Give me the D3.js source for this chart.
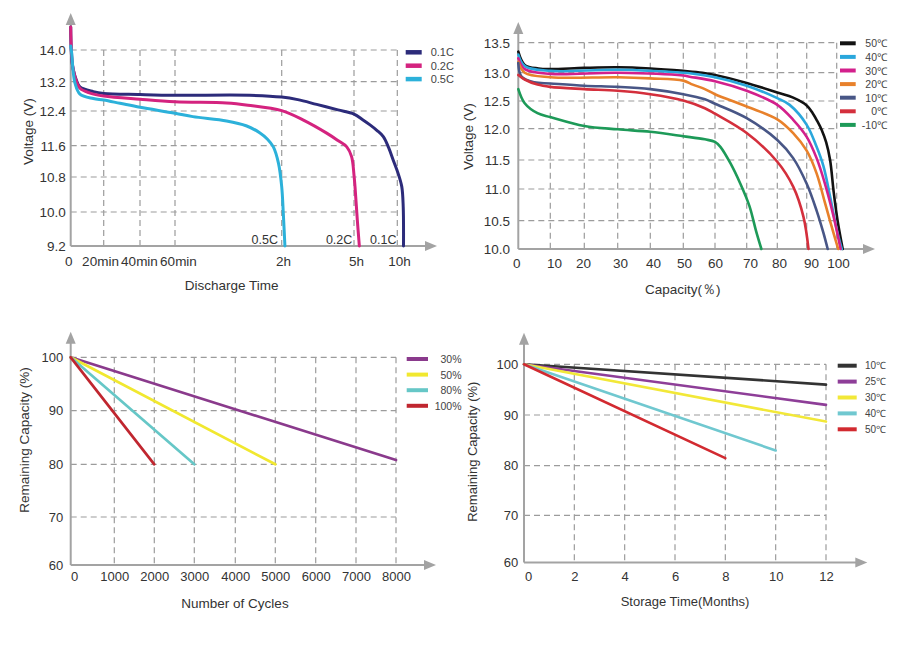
<!DOCTYPE html>
<html><head><meta charset="utf-8">
<script src="https://cdn.jsdelivr.net/npm/d3@7"></script>
<style>body{margin:0;background:#fff}</style>
</head><body><svg id="c" width="924" height="648"></svg>
<script>
// ---------- Panel 1: discharge curves ----------
const dischargeTicks = [0, 20, 40, 60, 120, 300, 600]; // minutes
const dischargeLabels = ["0", "20min", "40min", "60min", "2h", "5h", "10h"];
const voltTicks1 = [9.2, 10.0, 10.8, 11.6, 12.4, 13.2, 14.0];
const rateNames = ["0.1C", "0.2C", "0.5C"];
const rate01C = [[0,14.58],[0.3,14.0],[0.8,13.70],[1.6,13.50],[3.2,13.27],[5.6,13.06],[13.7,12.93],[20,12.88],[40,12.85],[60,12.83],[102,12.83],[120,12.78],[160,12.71],[207,12.58],[260,12.43],[300,12.33],[360,12.2],[411,12.08],[460,11.95],[503,11.81],[540,11.55],[572,11.23],[605,10.9],[631,10.58],[641,10.12],[643,9.2]];
const rate02C = [[0,14.58],[0.4,14.0],[1.1,13.62],[2.6,13.32],[5.6,13.02],[11.7,12.89],[20,12.81],[40,12.72],[60,12.65],[89,12.62],[101,12.56],[120,12.41],[174,12.19],[232,11.89],[260,11.72],[282,11.57],[294,11.32],[300,10.85],[307,10.58],[323,9.81],[337,9.2]];
const rate05C = [[0,14.1],[0.6,13.92],[1.4,13.50],[2.6,13.16],[5.6,12.86],[13.7,12.74],[20,12.70],[29,12.61],[40,12.50],[60,12.35],[70,12.27],[89,12.17],[100,12.06],[107.6,11.9],[112,11.75],[115.3,11.57],[118.2,11.15],[120,10.58],[124,9.97],[128,9.2]];

// ---------- Panel 2: temperature curves ----------
const capTicks = [0, 10, 20, 30, 40, 50, 60, 70, 80, 90, 100];
const voltTicks2 = [10.0, 10.5, 11.0, 11.5, 12.0, 12.5, 13.0, 13.5];
const tempNames = ["50℃", "40℃", "30℃", "20℃", "10℃", "0℃", "-10℃"];
const temp50 = [[0,13.35],[2,13.13],[6.3,13.07],[10,13.06],[20,13.08],[30,13.09],[40,13.07],[50,13.03],[56,13.0],[60,12.96],[70,12.82],[80,12.65],[85.4,12.56],[90,12.42],[92,12.28],[93.5,12.14],[95,11.98],[96.5,11.78],[97.8,11.5],[99,10.95],[100.3,10.5],[102,10.0]];
const temp40 = [[0,13.3],[2,13.11],[10,13.03],[30,13.05],[50,13.0],[52,12.99],[60,12.92],[70,12.77],[80,12.55],[84.2,12.43],[90,12.07],[93.3,11.71],[95.6,11.39],[97.8,10.88],[100,10.35],[101.7,10.0]];
const temp30 = [[0,13.24],[2,13.06],[10,12.98],[30,13.0],[50,12.95],[52,12.93],[60,12.85],[70,12.68],[80,12.43],[85.4,12.16],[90,11.87],[93.3,11.53],[96.1,11.09],[99,10.56],[101.3,10.0]];
const temp20 = [[0,13.18],[2,13.0],[10,12.92],[30,12.92],[40,12.9],[50,12.86],[53,12.79],[56.8,12.71],[60,12.62],[70,12.40],[80,12.17],[85.4,11.93],[90,11.65],[93.3,11.27],[96.1,10.78],[98.3,10.40],[100.5,10.0]];
const temp10 = [[0,13.16],[1,12.93],[5,12.83],[10,12.81],[20,12.77],[30,12.75],[40,12.71],[50,12.62],[56.8,12.53],[60,12.45],[70,12.19],[80,11.82],[85.4,11.53],[90,11.09],[93.3,10.66],[95.6,10.28],[97,10.0]];
const temp0 = [[0,12.96],[2,12.88],[6,12.79],[10,12.75],[20,12.71],[30,12.68],[40,12.62],[50,12.51],[56.8,12.37],[60,12.27],[70,11.93],[80,11.47],[85.4,11.04],[88.9,10.56],[90.6,10.0]];
const tempM10 = [[0,12.71],[2,12.46],[6,12.28],[10,12.21],[20,12.05],[30,11.99],[40,11.95],[50,11.88],[56.8,11.83],[60,11.79],[61.7,11.71],[64.9,11.44],[68,11.09],[70.9,10.73],[73,10.33],[74.8,10.0]];

// ---------- Panel 3: cycle life ----------
const cycleTicks = [0, 1000, 2000, 3000, 4000, 5000, 6000, 7000, 8000];
const capTicks3 = [60, 70, 80, 90, 100];
const dodNames = ["30%", "50%", "80%", "100%"];
const dod30 = [[0,100],[8000,80.8]];
const dod50 = [[0,100],[5000,80]];
const dod80 = [[0,100],[3000,80]];
const dod100 = [[0,100],[2000,80]];

// ---------- Panel 4: storage ----------
const monthTicks = [0, 2, 4, 6, 8, 10, 12];
const capTicks4 = [60, 70, 80, 90, 100];
const storeNames = ["10℃", "25℃", "30℃", "40℃", "50℃"];
const store10 = [[0,100],[12,96]];
const store25 = [[0,100],[12,92]];
const store30 = [[0,100],[12,88.7]];
const store40 = [[0,100],[10,83]];
const store50 = [[0,100],[8,81.5]];

// ================= drawing =================
const FONT = "'Liberation Sans', Arial, Helvetica, sans-serif";
const svg = d3.select("#c");
svg.append("rect").attr("width", 924).attr("height", 648).attr("fill", "#fff");
const AX = "#a3a3a3", GRID = "#9c9c9c", TXT = "#333";

function drawPanel(p) {
  const g = svg.append("g");
  const x = p.x, y = p.y;
  const x0 = x(p.xTicks[0]), y0 = y(p.yTicks[0]);
  const xMax = x(p.xTicks[p.xTicks.length - 1]);
  const yTop = y(p.yTicks[p.yTicks.length - 1]);

  g.selectAll("line.gh").data(p.yTicks.slice(1)).join("line").attr("class", "gh")
    .attr("x1", x0).attr("x2", xMax).attr("y1", d => y(d)).attr("y2", d => y(d))
    .attr("stroke", GRID).attr("stroke-width", 1.2).attr("stroke-dasharray", "6,4");
  g.selectAll("line.gv").data(p.xTicks.slice(1)).join("line").attr("class", "gv")
    .attr("y1", yTop).attr("y2", y0).attr("x1", d => x(d)).attr("x2", d => x(d))
    .attr("stroke", GRID).attr("stroke-width", 1.2).attr("stroke-dasharray", "6,4");

  // axes with arrows
  g.append("line").attr("x1", x0).attr("x2", x0).attr("y1", y0).attr("y2", p.topTip + 8)
    .attr("stroke", AX).attr("stroke-width", 2);
  g.append("line").attr("x1", x0).attr("x2", p.rightTip - 8).attr("y1", y0).attr("y2", y0)
    .attr("stroke", AX).attr("stroke-width", 2);
  g.append("path").attr("fill", AX)
    .attr("d", `M${x0},${p.topTip} L${x0 - 5},${p.topTip + 12} L${x0 + 5},${p.topTip + 12} Z`);
  g.append("path").attr("fill", AX)
    .attr("d", `M${p.rightTip},${y0} L${p.rightTip - 12},${y0 - 5} L${p.rightTip - 12},${y0 + 5} Z`);

  // tick labels through d3 axes
  const xa = g.append("g").attr("transform", `translate(0,${y0})`)
    .call(d3.axisBottom(x).tickValues(p.xTicks)
      .tickFormat(d => p.xLabels ? p.xLabels[p.xTicks.indexOf(d)] : d3.format(p.xFmt || "")(d))
      .tickSize(0).tickPadding(p.xPad));
  xa.select(".domain").remove();
  xa.selectAll("text").attr("font-family", FONT).attr("font-size", p.tickFont).attr("fill", TXT)
    .attr("dx", d => p.xLabelDx ? p.xLabelDx[p.xTicks.indexOf(d)] : (d === p.xTicks[0] ? p.zeroDx : 0));
  const ya = g.append("g").attr("transform", `translate(${x0},0)`)
    .call(d3.axisLeft(y).tickValues(p.yTicks).tickFormat(d3.format(p.yFmt)).tickSize(0).tickPadding(p.yPad));
  ya.select(".domain").remove();
  ya.selectAll("text").attr("font-family", FONT).attr("font-size", p.tickFont).attr("fill", TXT);
  xa.attr("font-family", null).attr("font-size", null);
  ya.attr("font-family", null).attr("font-size", null);

  // titles
  g.append("text").attr("x", p.xTitle[0]).attr("y", p.xTitle[1]).attr("text-anchor", "middle")
    .attr("dominant-baseline", "central").attr("font-family", FONT).attr("font-size", p.titleFont)
    .attr("fill", TXT).text(p.xTitleText);
  g.append("text").attr("transform", `translate(${p.yTitle[0]},${p.yTitle[1]}) rotate(-90)`)
    .attr("text-anchor", "middle").attr("dominant-baseline", "central").attr("font-family", FONT)
    .attr("font-size", p.titleFont).attr("fill", TXT).text(p.yTitleText);

  // series
  const line = d3.line().x(d => x(d[0])).y(d => y(d[1])).curve(p.curve || d3.curveLinear);
  p.series.forEach(s => {
    g.append("path").datum(s.values).attr("d", line).attr("fill", "none")
      .attr("stroke", s.color).attr("stroke-width", p.lineWidth)
      .attr("stroke-linejoin", "round").attr("stroke-linecap", "round");
  });

  // legend
  const L = p.legend;
  p.series.forEach((s, i) => {
    const yy = L.y0 + i * L.dy;
    g.append("line").attr("x1", L.x1).attr("x2", L.x2).attr("y1", yy).attr("y2", yy)
      .attr("stroke", s.color).attr("stroke-width", L.w);
    g.append("text").attr("x", L.tx).attr("y", yy).attr("text-anchor", L.anchor)
      .attr("dominant-baseline", "central").attr("font-family", FONT)
      .attr("font-size", L.font).attr("fill", "#444").text(s.name);
  });
  return g;
}

const smooth = d3.curveCatmullRom.alpha(0.5);

// Panel 1
const p1x = d3.scaleLinear().domain(dischargeTicks).range([70.7, 103.7, 140, 175, 281.7, 354, 397.3]);
const p1y = d3.scaleLinear().domain(voltTicks1).range([246, 212, 177, 145.7, 111, 81.7, 50]);
const p1series = [
  {name: rateNames[0], values: rate01C, color: "#2c2b7a"},
  {name: rateNames[1], values: rate02C, color: "#d4237f"},
  {name: rateNames[2], values: rate05C, color: "#2cb1da"}
];
const g1 = drawPanel({
  x: p1x, y: p1y, xTicks: dischargeTicks, xLabels: dischargeLabels, yTicks: voltTicks1, yFmt: ".1f",
  xLabelDx: [-2.5, -3.7, -1, 3, 1.3, 2, 1.7],
  topTip: 13, rightTip: 437, xPad: 10, yPad: 5, tickFont: 13.5, titleFont: 13.5,
  xTitle: [231.7, 285.7], yTitle: [28, 131.7], xTitleText: "Discharge Time", yTitleText: "Voltage (V)",
  series: p1series, lineWidth: 3, curve: smooth,
  legend: {x1: 405.7, x2: 421.7, y0: 52.3, dy: 13.4, tx: 430.7, anchor: "start", font: 11, w: 4.5}
});
// curve end labels
p1series.forEach(s => {
  const last = s.values[s.values.length - 1];
  g1.append("text").attr("x", p1x(last[0]) - 7).attr("y", 243.5).attr("text-anchor", "end")
    .attr("font-family", FONT).attr("font-size", 12.5).attr("fill", TXT).text(s.name);
});

// Panel 2
drawPanel({
  x: d3.scaleLinear().domain(capTicks).range([518.3, 550.3, 584.3, 617.7, 650.3, 683.3, 715, 746.7, 777.3, 806.7, 836.7]),
  y: d3.scaleLinear().domain(voltTicks2).range([249, 220.7, 189, 160, 128.7, 101, 72.7, 42.7]),
  xTicks: capTicks, yTicks: voltTicks2, yFmt: ".1f", xFmt: "d",
  xLabelDx: [-2, 3.7, -1.3, 2.3, 2.7, 0.7, 0, 3.3, 1.7, 4.3, 1.3],
  topTip: 22, rightTip: 875, xPad: 9.5, yPad: 8.3, tickFont: 13.5, titleFont: 13.5,
  xTitle: [682.7, 289.3], yTitle: [468.3, 136.7], xTitleText: "Capacity(％)", yTitleText: "Voltage (V)",
  series: [
    {name: tempNames[0], values: temp50, color: "#121212"},
    {name: tempNames[1], values: temp40, color: "#2aa7dc"},
    {name: tempNames[2], values: temp30, color: "#d3208c"},
    {name: tempNames[3], values: temp20, color: "#e8812b"},
    {name: tempNames[4], values: temp10, color: "#485686"},
    {name: tempNames[5], values: temp0, color: "#d42f3c"},
    {name: tempNames[6], values: tempM10, color: "#1d9a58"}
  ], lineWidth: 2.6, curve: smooth,
  legend: {x1: 840, x2: 855.7, y0: 43.3, dy: 13.6, tx: 887, anchor: "end", font: 10.5, w: 4}
});

// Panel 3
drawPanel({
  x: d3.scaleLinear().domain(cycleTicks).range([70.7, 114.3, 154.3, 194.3, 235.3, 275.3, 315.7, 356, 396]),
  y: d3.scaleLinear().domain(capTicks3).range([565, 517, 464.3, 410.7, 357.3]),
  xTicks: cycleTicks, yTicks: capTicks3, yFmt: "d", xFmt: "d",
  topTip: 331.7, rightTip: 436, xPad: 7, yPad: 7.4, zeroDx: 3.3, tickFont: 13, titleFont: 13.5,
  xTitle: [235, 603.3], yTitle: [24, 440], xTitleText: "Number of Cycles", yTitleText: "Remaining Capacity (%)",
  series: [
    {name: dodNames[0], values: dod30, color: "#8a3a8c"},
    {name: dodNames[1], values: dod50, color: "#f1e82f"},
    {name: dodNames[2], values: dod80, color: "#66c7c7"},
    {name: dodNames[3], values: dod100, color: "#c0262f"}
  ], lineWidth: 2.7,
  legend: {x1: 406.7, x2: 428, y0: 359, dy: 15.6, tx: 461.5, anchor: "end", font: 10.5, w: 4}
});

// Panel 4
drawPanel({
  x: d3.scaleLinear().domain([0, 12]).range([524, 826]),
  y: d3.scaleLinear().domain(capTicks4).range([562.5, 515.3, 465.7, 415, 364.3]),
  xTicks: monthTicks, yTicks: capTicks4, yFmt: "d", xFmt: "d",
  topTip: 332.7, rightTip: 867.3, xPad: 9.5, yPad: 5.7, zeroDx: 4, tickFont: 13, titleFont: 13,
  xTitle: [685, 601.7], yTitle: [472.7, 451.7], xTitleText: "Storage Time(Months)", yTitleText: "Remaining Capacity (%)",
  series: [
    {name: storeNames[0], values: store10, color: "#333333"},
    {name: storeNames[1], values: store25, color: "#8e3e98"},
    {name: storeNames[2], values: store30, color: "#f2e838"},
    {name: storeNames[3], values: store40, color: "#70c8d0"},
    {name: storeNames[4], values: store50, color: "#d22a30"}
  ], lineWidth: 2.6,
  legend: {x1: 837.7, x2: 856.7, y0: 365.7, dy: 15.9, tx: 865, anchor: "start", font: 10, w: 4}
});
</script>
</body></html>
